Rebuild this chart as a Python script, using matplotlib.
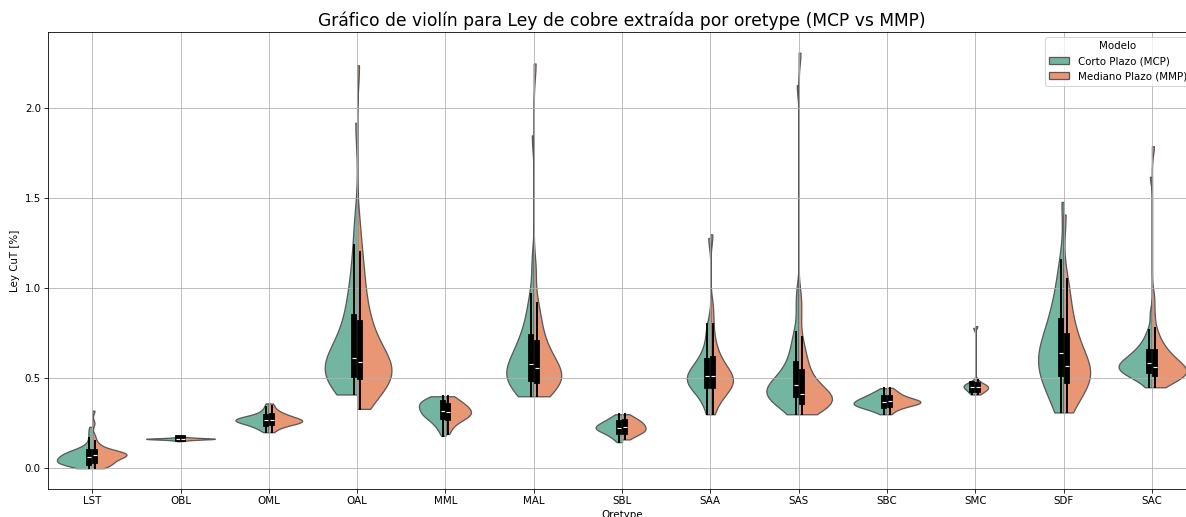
import numpy as np
import pandas as pd
import matplotlib
matplotlib.use("Agg")
import matplotlib.pyplot as plt
import seaborn as sns

# Ley CuT [%] por oretype, leida a ojo del grafico original.
# mcp = Corto Plazo, mmp = Mediano Plazo
oretypes = ["LST", "OBL", "OML", "OAL", "MML", "MAL", "SBL",
            "SAA", "SAS", "SBC", "SMC", "SDF", "SAC"]

lst_mcp = [0.00, 0.01, 0.015, 0.02, 0.02, 0.025, 0.025, 0.03, 0.03, 0.03, 0.035, 0.035,
           0.04, 0.04, 0.045, 0.05, 0.055, 0.06, 0.06, 0.065, 0.07, 0.07, 0.075, 0.075,
           0.08, 0.085, 0.09, 0.09, 0.095, 0.10, 0.11, 0.12, 0.14, 0.17, 0.20, 0.23]
lst_mmp = [0.00, 0.005, 0.01, 0.015, 0.02, 0.025, 0.03, 0.035, 0.04, 0.045, 0.05, 0.055,
           0.06, 0.06, 0.065, 0.07, 0.07, 0.075, 0.075, 0.08, 0.08, 0.08, 0.085, 0.085,
           0.09, 0.09, 0.095, 0.10, 0.11, 0.12, 0.13, 0.15, 0.18, 0.25, 0.32]

obl_mcp = [0.150, 0.153, 0.155, 0.156, 0.157, 0.158, 0.159, 0.159, 0.160, 0.160, 0.161, 0.161,
           0.161, 0.162, 0.162, 0.162, 0.163, 0.163, 0.163, 0.163, 0.164, 0.164, 0.164, 0.165,
           0.165, 0.165, 0.166, 0.166, 0.167, 0.167, 0.168, 0.169, 0.170, 0.172, 0.175]
obl_mmp = [0.151, 0.154, 0.156, 0.157, 0.158, 0.159, 0.159, 0.160, 0.160, 0.161, 0.161, 0.162,
           0.162, 0.162, 0.163, 0.163, 0.163, 0.163, 0.164, 0.164, 0.164, 0.165, 0.165, 0.165,
           0.166, 0.166, 0.167, 0.167, 0.168, 0.168, 0.169, 0.170, 0.171, 0.173, 0.176]

oml_mcp = [0.20, 0.21, 0.22, 0.225, 0.23, 0.235, 0.24, 0.245, 0.248, 0.25, 0.252, 0.255,
           0.258, 0.26, 0.262, 0.264, 0.266, 0.268, 0.27, 0.272, 0.274, 0.276, 0.278, 0.28,
           0.283, 0.286, 0.29, 0.294, 0.298, 0.305, 0.315, 0.325, 0.34, 0.36]
oml_mmp = [0.20, 0.212, 0.222, 0.23, 0.236, 0.24, 0.244, 0.248, 0.25, 0.252, 0.254, 0.256,
           0.258, 0.26, 0.262, 0.264, 0.266, 0.268, 0.27, 0.272, 0.275, 0.278, 0.28, 0.284,
           0.288, 0.292, 0.296, 0.30, 0.305, 0.31, 0.32, 0.33, 0.345, 0.36]

oal_mcp = [0.41, 0.43, 0.45, 0.47, 0.48, 0.49, 0.50, 0.51, 0.52, 0.53, 0.54, 0.55,
           0.56, 0.57, 0.58, 0.60, 0.61, 0.63, 0.65, 0.67, 0.70, 0.73, 0.76, 0.80,
           0.84, 0.88, 0.93, 0.98, 1.05, 1.13, 1.24, 1.38, 1.92]
oal_mmp = [0.33, 0.38, 0.42, 0.44, 0.46, 0.47, 0.48, 0.49, 0.50, 0.51, 0.52, 0.53,
           0.54, 0.55, 0.56, 0.57, 0.58, 0.59, 0.61, 0.63, 0.65, 0.67, 0.70, 0.73,
           0.76, 0.79, 0.83, 0.87, 0.92, 0.98, 1.05, 1.12, 1.20, 1.35, 2.24]

mml_mcp = [0.18, 0.21, 0.23, 0.245, 0.26, 0.27, 0.28, 0.29, 0.295, 0.30, 0.305, 0.31,
           0.315, 0.32, 0.33, 0.34, 0.345, 0.35, 0.355, 0.36, 0.365, 0.37, 0.375, 0.38,
           0.385, 0.39, 0.40]
mml_mmp = [0.19, 0.22, 0.24, 0.255, 0.265, 0.275, 0.28, 0.285, 0.29, 0.295, 0.30, 0.305,
           0.31, 0.315, 0.32, 0.325, 0.33, 0.335, 0.34, 0.35, 0.355, 0.36, 0.37, 0.38,
           0.39, 0.40]

mal_mcp = [0.40, 0.42, 0.44, 0.46, 0.47, 0.48, 0.49, 0.50, 0.51, 0.52, 0.53, 0.54,
           0.56, 0.57, 0.59, 0.61, 0.63, 0.65, 0.67, 0.69, 0.72, 0.75, 0.79, 0.84,
           0.90, 0.97, 1.15, 1.85]
mal_mmp = [0.40, 0.42, 0.44, 0.45, 0.46, 0.47, 0.48, 0.49, 0.50, 0.51, 0.52, 0.53,
           0.54, 0.55, 0.56, 0.58, 0.60, 0.62, 0.64, 0.66, 0.69, 0.72, 0.76, 0.81,
           0.86, 0.92, 1.10, 2.25]

sbl_mcp = [0.145, 0.16, 0.17, 0.18, 0.19, 0.195, 0.20, 0.205, 0.21, 0.215, 0.22, 0.22,
           0.225, 0.225, 0.23, 0.23, 0.235, 0.24, 0.245, 0.25, 0.255, 0.26, 0.265, 0.27,
           0.28, 0.29, 0.30]
sbl_mmp = [0.16, 0.17, 0.18, 0.19, 0.195, 0.20, 0.205, 0.21, 0.21, 0.215, 0.22, 0.225,
           0.23, 0.235, 0.24, 0.245, 0.25, 0.255, 0.26, 0.265, 0.27, 0.28, 0.29, 0.30]

saa_mcp = [0.30, 0.35, 0.39, 0.42, 0.44, 0.45, 0.46, 0.47, 0.48, 0.49, 0.50, 0.51,
           0.52, 0.53, 0.54, 0.55, 0.57, 0.59, 0.61, 0.64, 0.68, 0.74, 0.80, 1.28]
saa_mmp = [0.30, 0.36, 0.40, 0.42, 0.44, 0.45, 0.46, 0.47, 0.48, 0.49, 0.50, 0.51,
           0.52, 0.53, 0.55, 0.57, 0.59, 0.62, 0.66, 0.71, 0.80, 0.90, 1.30]

sas_mcp = [0.30, 0.33, 0.35, 0.37, 0.38, 0.39, 0.395, 0.40, 0.405, 0.41, 0.415, 0.42,
           0.425, 0.43, 0.44, 0.45, 0.46, 0.47, 0.48, 0.49, 0.50, 0.52, 0.54, 0.56,
           0.58, 0.61, 0.64, 0.68, 0.72, 0.76, 0.88, 0.98, 2.13]
sas_mmp = [0.30, 0.32, 0.335, 0.345, 0.35, 0.355, 0.36, 0.365, 0.37, 0.372, 0.375, 0.378,
           0.38, 0.385, 0.39, 0.40, 0.41, 0.42, 0.43, 0.44, 0.45, 0.46, 0.48, 0.50,
           0.52, 0.54, 0.57, 0.60, 0.63, 0.67, 0.73, 0.85, 0.95, 2.31]

sbc_mcp = [0.30, 0.31, 0.32, 0.325, 0.33, 0.335, 0.34, 0.342, 0.345, 0.348, 0.35, 0.352,
           0.355, 0.357, 0.36, 0.362, 0.365, 0.368, 0.37, 0.373, 0.376, 0.38, 0.383, 0.386,
           0.39, 0.394, 0.398, 0.402, 0.407, 0.412, 0.418, 0.425, 0.435, 0.445]
sbc_mmp = [0.30, 0.315, 0.325, 0.332, 0.338, 0.343, 0.347, 0.35, 0.353, 0.356, 0.358, 0.36,
           0.362, 0.364, 0.366, 0.368, 0.37, 0.372, 0.374, 0.376, 0.378, 0.38, 0.383, 0.386,
           0.39, 0.394, 0.398, 0.403, 0.408, 0.414, 0.42, 0.428, 0.437, 0.447]

smc_mcp = [0.41, 0.42, 0.43, 0.44, 0.445, 0.45, 0.455, 0.46, 0.465, 0.47, 0.48, 0.78]
smc_mmp = [0.41, 0.42, 0.43, 0.435, 0.44, 0.445, 0.45, 0.455, 0.46, 0.465, 0.47, 0.49, 0.79]

sdf_mcp = [0.31, 0.36, 0.40, 0.44, 0.47, 0.50, 0.52, 0.54, 0.56, 0.58, 0.60, 0.62,
           0.63, 0.65, 0.67, 0.70, 0.73, 0.76, 0.79, 0.83, 0.87, 0.92, 0.98, 1.06,
           1.16, 1.48]
sdf_mmp = [0.31, 0.35, 0.39, 0.42, 0.45, 0.47, 0.48, 0.49, 0.50, 0.51, 0.53, 0.55,
           0.56, 0.57, 0.59, 0.61, 0.63, 0.66, 0.69, 0.72, 0.75, 0.79, 0.84, 0.90,
           0.97, 1.05, 1.41]

sac_mcp = [0.45, 0.48, 0.50, 0.51, 0.52, 0.525, 0.53, 0.535, 0.54, 0.545, 0.55, 0.555,
           0.56, 0.565, 0.57, 0.575, 0.58, 0.585, 0.59, 0.595, 0.60, 0.61, 0.62, 0.63,
           0.64, 0.65, 0.66, 0.67, 0.69, 0.71, 0.74, 0.77, 0.86, 1.62]
sac_mmp = [0.45, 0.47, 0.48, 0.49, 0.50, 0.505, 0.51, 0.515, 0.52, 0.525, 0.53, 0.535,
           0.54, 0.545, 0.55, 0.555, 0.56, 0.565, 0.57, 0.58, 0.59, 0.60, 0.61, 0.62,
           0.63, 0.64, 0.65, 0.67, 0.69, 0.71, 0.74, 0.78, 0.86, 0.95, 1.79]

mcp = [lst_mcp, obl_mcp, oml_mcp, oal_mcp, mml_mcp, mal_mcp, sbl_mcp,
       saa_mcp, sas_mcp, sbc_mcp, smc_mcp, sdf_mcp, sac_mcp]
mmp = [lst_mmp, obl_mmp, oml_mmp, oal_mmp, mml_mmp, mal_mmp, sbl_mmp,
       saa_mmp, sas_mmp, sbc_mmp, smc_mmp, sdf_mmp, sac_mmp]

rows = []
for ot, a, b in zip(oretypes, mcp, mmp):
    rows += [(ot, "Corto Plazo (MCP)", v) for v in a]
    rows += [(ot, "Mediano Plazo (MMP)", v) for v in b]
df = pd.DataFrame(rows, columns=["Oretype", "Modelo", "Ley CuT [%]"])


def robust_bw(kde):
    # Silverman con IQR: las colas largas no inflan el ancho de banda
    x = kde.dataset.ravel()
    q1, q3 = np.percentile(x, [25, 75])
    sd = x.std(ddof=1)
    sigma = min(sd, (q3 - q1) / 1.349)
    return 0.9 * sigma * len(x) ** -0.2 / sd


fig = plt.figure(figsize=(16, 6.975), dpi=74.125)
ax = fig.add_axes([0.0405, 0.0542, 0.968, 0.884])

sns.violinplot(data=df, x="Oretype", y="Ley CuT [%]", hue="Modelo", order=oretypes,
               split=True, inner="box", palette="Set2", cut=0,
               density_norm="count", common_norm=True, bw_method=robust_bw, bw_adjust=1.15,
               inner_kws=dict(color="black"), ax=ax)

ax.set_title("Gráfico de violín para Ley de cobre extraída por oretype (MCP vs MMP)", fontsize=16.6)
ax.set_xlabel("Oretype")
ax.set_ylabel("Ley CuT [%]")
ax.grid(True)
ax.legend(title="Modelo", loc="upper right")

fig.savefig("out.png", dpi=74.125)
